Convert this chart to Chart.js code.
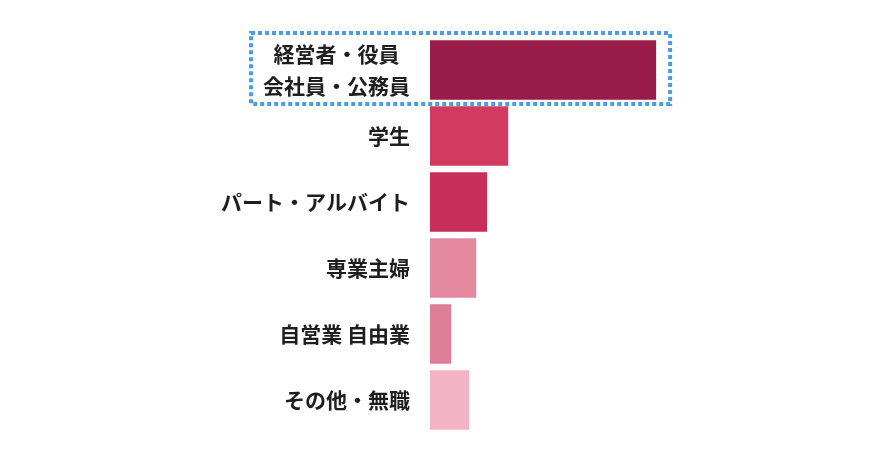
<!DOCTYPE html>
<html>
<head>
<meta charset="utf-8">
<script src="https://cdn.jsdelivr.net/npm/chart.js@4"></script>
<style>
  html, body { margin: 0; padding: 0; background: #ffffff; }
  #wrap { width: 894px; height: 462px; }
</style>
</head>
<body>
<div id="wrap"><canvas id="canvas"></canvas></div>
<script>
// categories and shares (%)
var categories = [
  ['経営者・役員\u2002', '会社員・公務員'],
  '学生',
  'パート・アルバイト',
  '専業主婦',
  '自営業 自由業',
  'その他・無職'
];
var shares = [48, 16.6, 12.1, 9.8, 4.5, 8.3];
var barColors = ['#9a1c49', '#d23a5f', '#c72f59', '#e4889f', '#de7d98', '#f2b4c4'];

// dotted frame around the first row
var highlightBox = {
  id: 'highlightBox',
  afterDatasetsDraw: function(chart) {
    var ctx = chart.ctx;
    var y = chart.scales.y;
    var bar = chart.getDatasetMeta(0).data[0];
    var half = (y.getPixelForValue(1) - y.getPixelForValue(0)) / 2;
    var mid = y.getPixelForValue(0);
    var top = mid - half - 4;
    var bottom = mid + half + 1;
    var left = 251;
    var right = bar.x + 14;
    ctx.save();
    ctx.strokeStyle = '#4a9de2';
    ctx.lineWidth = 4;
    ctx.setLineDash([4, 3]);
    ctx.strokeRect(left, top, right - left, bottom - top);
    ctx.restore();
  }
};

var ctx = document.getElementById('canvas').getContext('2d');
window.myBar = new Chart(ctx, {
  type: 'bar',
  data: {
    labels: categories,
    datasets: [{
      data: shares,
      backgroundColor: barColors,
      borderWidth: 0,
      barPercentage: 0.9,
      categoryPercentage: 1.0
    }]
  },
  options: {
    indexAxis: 'y',
    responsive: true,
    maintainAspectRatio: false,
    animation: false,
    layout: { padding: { top: 37, bottom: 29, left: 0, right: 0 } },
    plugins: {
      legend: { display: false },
      tooltip: { enabled: false }
    },
    scales: {
      x: {
        display: false,
        min: 0,
        max: 98.5
      },
      y: {
        grid: { display: false },
        border: { display: false },
        afterFit: function(scale) {
          scale.width = 430;
          scale.paddingTop = 0;
          scale.paddingBottom = 0;
        },
        ticks: {
          autoSkip: false,
          color: '#1e1e1e',
          padding: 12,
          font: { family: '"Noto Sans CJK JP", "Noto Sans", sans-serif', size: 21, weight: 'bold', lineHeight: 1.5 }
        }
      }
    }
  },
  plugins: [highlightBox]
});
</script>
</body>
</html>
